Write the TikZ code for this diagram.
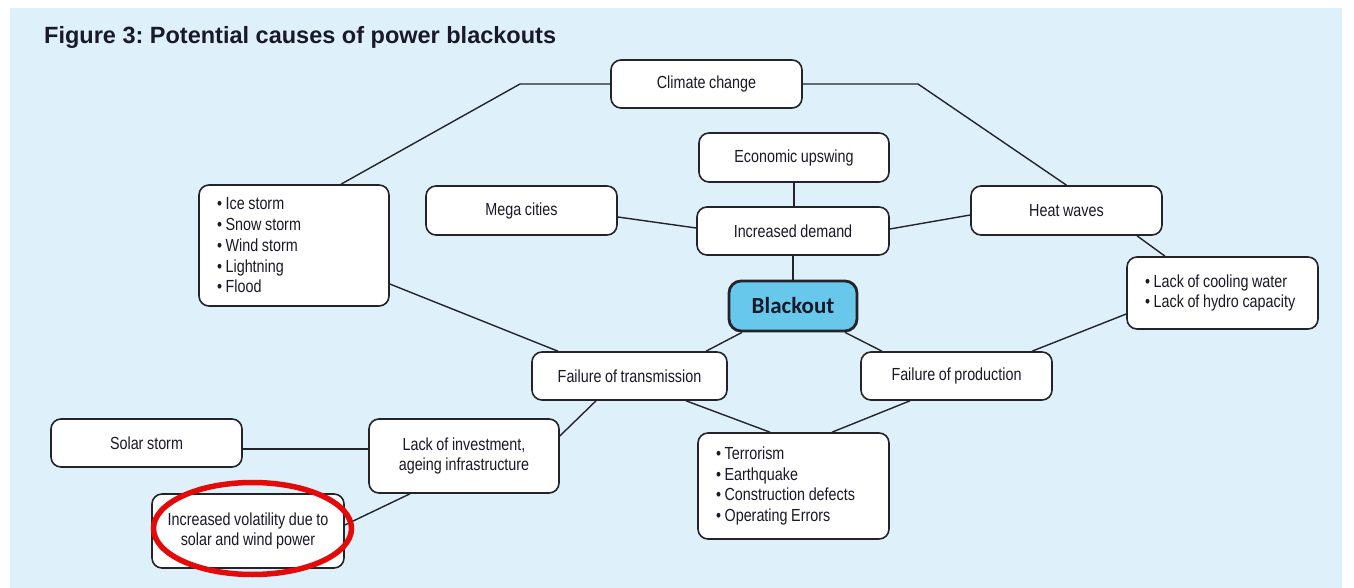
\documentclass[tikz,border=0pt]{standalone}
\usepackage{fontspec}
\setmainfont{Liberation Sans}
\newfontfamily\narrowfont[FakeStretch=0.82, WordSpace=0.9]{Liberation Sans}
\newfontfamily\calibfont{Carlito}
\definecolor{ink}{RGB}{25,25,40}
\definecolor{boxline}{RGB}{35,35,40}
\definecolor{skyb}{RGB}{104,200,236}
\definecolor{bgblue}{RGB}{222,240,250}
\definecolor{redring}{RGB}{228,10,10}
\tikzset{
  box/.style={draw=boxline, line width=1.6pt, rounded corners=10pt, fill=white,
    text=ink, font=\narrowfont\fontsize{17.5}{20.75}\selectfont, inner sep=0pt, align=center},
  sz/.style 2 args={minimum width=#1pt, minimum height=#2pt},
  listbox/.style={box, align=flush left, inner xsep=18pt, text width=#1pt},
  conn/.style={draw=boxline, line width=1.4pt},
  hub/.style={draw=boxline, line width=2.8pt, rounded corners=12pt, fill=skyb,
    text=ink, font=\calibfont\bfseries\fontsize{23}{27}\selectfont, inner sep=0pt}
}
\frenchspacing
\begin{document}
\begin{tikzpicture}[x=1pt,y=-1pt]
\useasboundingbox (0,0) rectangle (1354,588);
\fill[bgblue] (10,8) rectangle (1342,588);

\node[anchor=base west, inner sep=0pt, text=ink,
  font=\bfseries\fontsize{23.5}{28}\selectfont] (title) at (44,44)
  {Figure 3: Potential causes of power blackouts};

% boxes
\node[box, sz={191}{48}] (cc) at (706.5,84) {Climate change};
\node[box, sz={190}{49}] (eco) at (794,157.5) {Economic upswing};
\node[box, sz={191}{49}] (mega) at (521.5,210.5) {Mega cities};
\node[box, sz={192}{48}] (dem) at (793,231) {Increased demand};
\node[box, sz={191}{49}] (hw) at (1066.5,210.5) {Heat waves};
\node[listbox=154, minimum height=121pt] (ice) at (294,245.5)
  {\textbullet\ Ice storm\\\textbullet\ Snow storm\\\textbullet\ Wind storm\\\textbullet\ Lightning\\\textbullet\ Flood};
\node[hub, sz={128}{50}] (bo) at (793,306) {Blackout};
\node[listbox=155, minimum height=72pt] (cool) at (1222.5,293)
  {\textbullet\ Lack of cooling water\\\textbullet\ Lack of hydro capacity};
\node[box, sz={195}{48}] (ft) at (629.5,376) {Failure of transmission};
\node[box, sz={191}{48}] (fp) at (956.5,376) {Failure of production};
\node[box, sz={191}{48}] (ss) at (146.5,443) {Solar storm};
\node[box, sz={190}{74}] (li) at (464,456) {Lack of investment,\\ageing infrastructure};
\node[listbox=155, minimum height=106pt] (terr) at (793.5,486)
  {\textbullet\ Terrorism\\\textbullet\ Earthquake\\\textbullet\ Construction defects\\\textbullet\ Operating Errors};
\node[box, sz={192}{74}] (vol) at (248,531) {Increased volatility due to\\solar and wind power};

% connectors
\coordinate (cl) at (520,84);
\coordinate (cr) at (918,84);
\draw[conn] (cc.west) -- (cl) -- ([xshift=47pt]ice.north);
\draw[conn] (cc.east) -- (cr) -- (hw.north);
\draw[conn] (eco.south) -- (eco.south |- dem.north);
\draw[conn] ([yshift=-6.5pt]mega.east) -- ([yshift=3pt]dem.west);
\draw[conn] ([yshift=2pt]dem.east) -- ([yshift=-4.5pt]hw.west);
\draw[conn] (dem.south) -- (bo.north);
\draw[conn] ([xshift=-51pt]bo.south) -- ([xshift=76.5pt]ft.north);
\draw[conn] ([xshift=52pt]bo.south) -- ([xshift=-74.5pt]fp.north);
\draw[conn] ([yshift=-38.5pt]ice.east) -- ([xshift=-71.5pt]ft.north);
\draw[conn] ([xshift=70.5pt]hw.south) -- ([xshift=-57.5pt]cool.north);
\draw[conn] ([yshift=-21pt]cool.west) -- ([xshift=75.5pt]fp.north);
\draw[conn] ([xshift=-33.5pt]ft.south) -- ([yshift=20pt]li.east);
\draw[conn] ([xshift=56.5pt]ft.south) -- ([xshift=-23.5pt]terr.north);
\draw[conn] ([xshift=-46.5pt]fp.south) -- ([xshift=38.5pt]terr.north);
\draw[conn] ([yshift=-6pt]ss.east) -- ([yshift=7pt]li.west);
\draw[conn] ([xshift=-54pt]li.south) -- ([yshift=6pt]vol.east);

% highlight ring
\draw[redring, line width=5.5pt] (252.5,528.5) ellipse [x radius=99, y radius=46];
\end{tikzpicture}
\end{document}
